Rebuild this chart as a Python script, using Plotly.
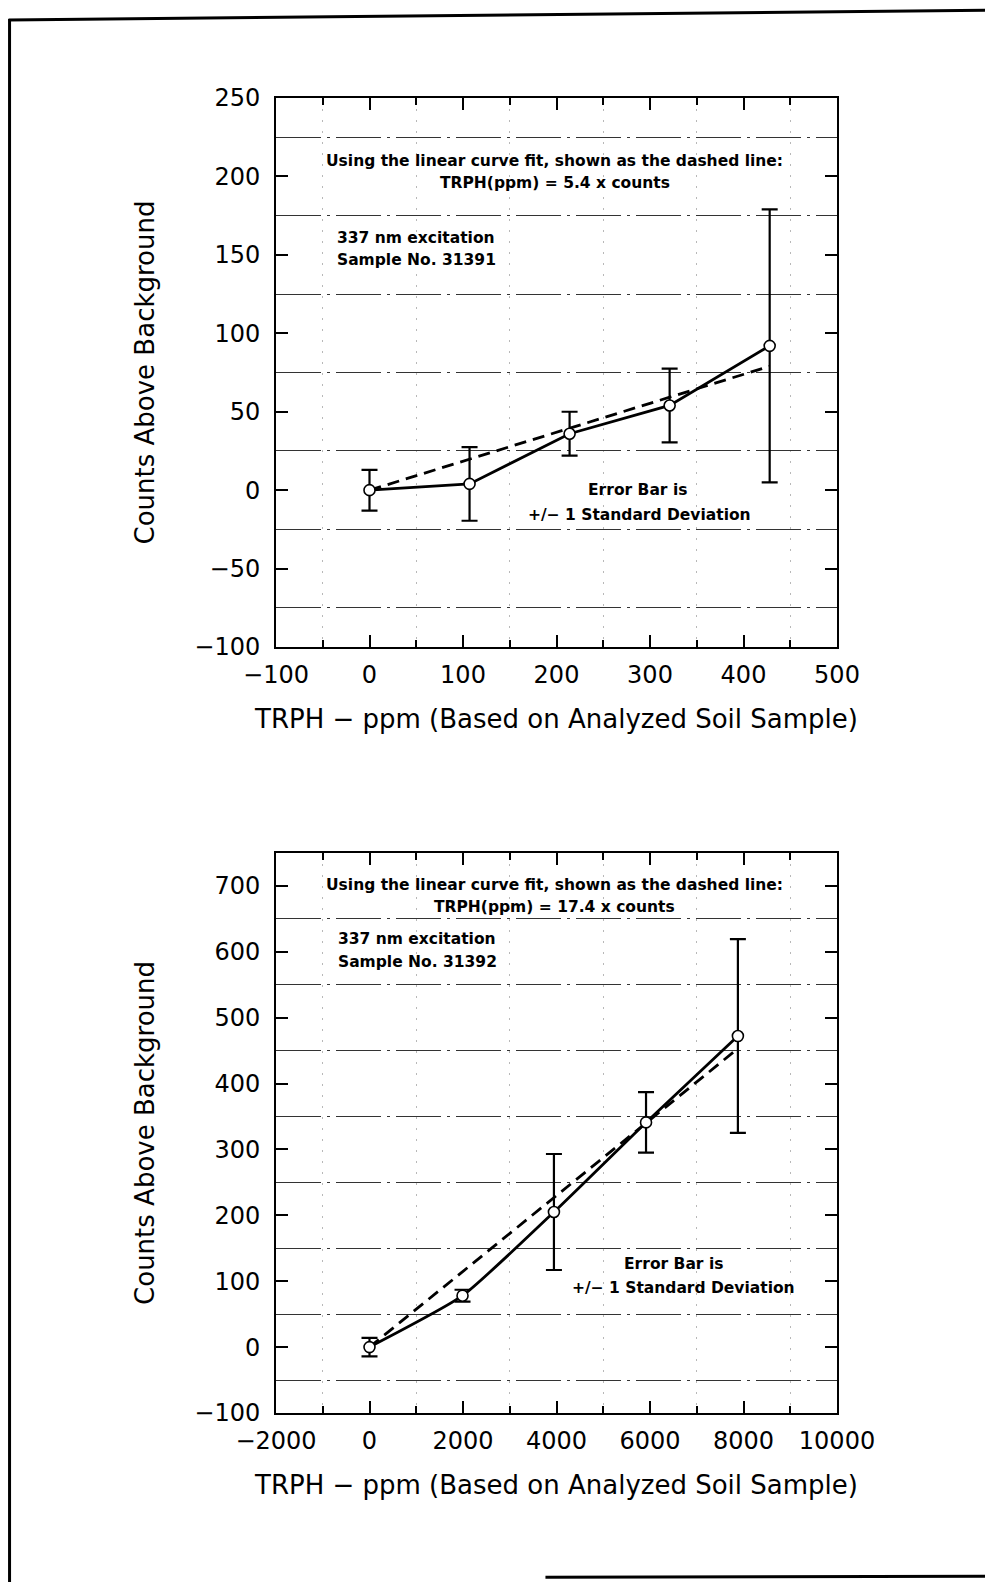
import plotly.graph_objects as go

# ---------------- data ----------------
top_ppm = [0, 107, 214, 321, 428]
top_counts = [0, 4, 36, 54, 92]
top_sd = [13, 23.5, 14, 23.5, 87]
top_fit_ppm = [0, 428]
top_fit_counts = [0, 79]

bot_ppm = [0, 1990, 3945, 5915, 7880]
bot_counts = [0, 78, 205, 341, 472]
bot_sd = [14, 9, 88, 46, 147]
bot_fit_ppm = [0, 7880]
bot_fit_counts = [0, 453]

top_xticks = [-100, 0, 100, 200, 300, 400, 500]
top_yticks = [-100, -50, 0, 50, 100, 150, 200, 250]
bot_xticks = [-2000, 0, 2000, 4000, 6000, 8000, 10000]
bot_xlabels = ["\u22122000", "0", "2000", "4000", "6000", "8000", "10000"]
bot_yticks = [-100, 0, 100, 200, 300, 400, 500, 600, 700]

x_title = "TRPH \u2212 ppm (Based on Analyzed Soil Sample)"
y_title = "Counts Above Background"

# ---------------- layout geometry ----------------
# page pixel coordinates; the html body adds an 8px margin, so shift by OFF
PAGE_W, PAGE_H = 993, 1582
OFF = 8
W, H = PAGE_W - OFF, PAGE_H - OFF
L, R = 275.5 - OFF, 836.6 - OFF
T_TOP = 97.9 - OFF
B_BOT = 1412.8 - OFF
PH = B_BOT - T_TOP
PW = R - L


def px(x):
    return (x - OFF - L) / PW


def py(y):
    return 1 - (y - OFF - T_TOP) / PH


FONT = "DejaVu Sans"
BLACK = "black"

fig = go.Figure()

# top panel
fig.add_trace(go.Scatter(x=top_fit_ppm, y=top_fit_counts, mode="lines",
                         line=dict(color=BLACK, width=2.8, dash="12px,7px"),
                         xaxis="x", yaxis="y", showlegend=False))
fig.add_trace(go.Scatter(x=top_ppm, y=top_counts, mode="lines+markers",
                         line=dict(color=BLACK, width=2.8),
                         marker=dict(symbol="circle", size=11, color="white",
                                     line=dict(color=BLACK, width=1.6)),
                         error_y=dict(type="data", array=top_sd, visible=True,
                                      color=BLACK, thickness=2.2, width=8),
                         xaxis="x", yaxis="y", showlegend=False))

# bottom panel
fig.add_trace(go.Scatter(x=bot_fit_ppm, y=bot_fit_counts, mode="lines",
                         line=dict(color=BLACK, width=2.8, dash="12px,7px"),
                         xaxis="x2", yaxis="y2", showlegend=False))
fig.add_trace(go.Scatter(x=bot_ppm, y=bot_counts, mode="lines+markers",
                         line=dict(color=BLACK, width=2.8, shape="spline",
                                   smoothing=0.5),
                         marker=dict(symbol="circle", size=11, color="white",
                                     line=dict(color=BLACK, width=1.6)),
                         error_y=dict(type="data", array=bot_sd, visible=True,
                                      color=BLACK, thickness=2.2, width=8),
                         xaxis="x2", yaxis="y2", showlegend=False))

top_dom = [py(646.9), py(97.9)]
bot_dom = [py(1412.8), py(852.7)]

common_x = dict(showline=True, linecolor=BLACK, linewidth=2, mirror="ticks",
                ticks="inside", ticklen=12, tickwidth=2, tickcolor=BLACK,
                showgrid=False, zeroline=False,
                tickfont=dict(family=FONT, size=24, color=BLACK),
                ticklabelstandoff=5,
                title=dict(text=x_title, font=dict(family=FONT, size=26, color=BLACK),
                           standoff=22),
                automargin=False)
common_y = dict(showline=True, linecolor=BLACK, linewidth=2, mirror="ticks",
                ticks="inside", ticklen=12, tickwidth=2, tickcolor=BLACK,
                showgrid=False, zeroline=False,
                tickfont=dict(family=FONT, size=24, color=BLACK),
                ticklabelstandoff=9,
                title=dict(text=y_title, font=dict(family=FONT, size=26, color=BLACK),
                           standoff=32),
                automargin=False)

fig.update_layout(
    width=W, height=H,
    margin=dict(l=L, r=W - R, t=T_TOP, b=H - B_BOT, pad=0),
    paper_bgcolor="white", plot_bgcolor="white",
    showlegend=False,
    xaxis=dict(common_x, domain=[0, 1], range=[-100, 500], anchor="y",
               tickvals=top_xticks,
               minor=dict(tick0=50, dtick=100, ticks="inside", ticklen=7,
                          tickwidth=2, tickcolor=BLACK, showgrid=True,
                          gridcolor="#b8b8b8", gridwidth=1,
                          griddash="2px,9px")),
    yaxis=dict(common_y, domain=top_dom, range=[-100, 250], anchor="x",
               tickvals=top_yticks,
               minor=dict(tick0=25, dtick=50, ticks="", showgrid=True,
                          gridcolor="#333333", gridwidth=1.4,
                          griddash="45px,6px,3px,6px")),
    xaxis2=dict(common_x, domain=[0, 1], range=[-2000, 10000], anchor="y2",
                tickvals=bot_xticks, ticktext=bot_xlabels,
                minor=dict(tick0=1000, dtick=2000, ticks="inside", ticklen=7,
                           tickwidth=2, tickcolor=BLACK, showgrid=True,
                           gridcolor="#b8b8b8", gridwidth=1,
                           griddash="2px,9px")),
    yaxis2=dict(common_y, domain=bot_dom, range=[-100, 750], anchor="x2",
                tickvals=bot_yticks,
                minor=dict(tick0=50, dtick=100, ticks="", showgrid=True,
                           gridcolor="#333333", gridwidth=1.4,
                           griddash="45px,6px,3px,6px")),
)

ann_font = dict(family=FONT, size=15.5, color=BLACK)


def note(text, x, y, xref, yref, xanchor="center"):
    fig.add_annotation(text="<b>%s</b>" % text, x=x, y=y, xref=xref, yref=yref,
                       xanchor=xanchor, yanchor="middle", showarrow=False,
                       font=ann_font)


# top panel notes
note("Using the linear curve fit, shown as the dashed line:", 198, 210, "x", "y")
note("TRPH(ppm) = 5.4 x counts", 198, 196, "x", "y")
note("337 nm excitation", -37, 161, "x", "y", "left")
note("Sample No. 31391", -37, 147, "x", "y", "left")
note("Error Bar is", 287, 0, "x", "y")
note("+/\u2212 1 Standard Deviation", 289, -16, "x", "y")

# bottom panel notes
note("Using the linear curve fit, shown as the dashed line:", 3956, 701, "x2", "y2")
note("TRPH(ppm) = 17.4 x counts", 3956, 668, "x2", "y2")
note("337 nm excitation", -710, 620, "x2", "y2", "left")
note("Sample No. 31392", -710, 585, "x2", "y2", "left")
note("Error Bar is", 6500, 126, "x2", "y2")
note("+/\u2212 1 Standard Deviation", 6720, 90, "x2", "y2")

# scanned page frame
frame = dict(color=BLACK, width=3)
fig.add_shape(type="line", xref="paper", yref="paper",
              x0=px(8), y0=py(20), x1=px(993), y1=py(10), line=frame)
fig.add_shape(type="line", xref="paper", yref="paper",
              x0=px(9), y0=py(19), x1=px(9), y1=py(1582), line=frame)
fig.add_shape(type="line", xref="paper", yref="paper",
              x0=px(545), y0=py(1577), x1=px(993), y1=py(1576), line=frame)

fig.write_html("out.html")
